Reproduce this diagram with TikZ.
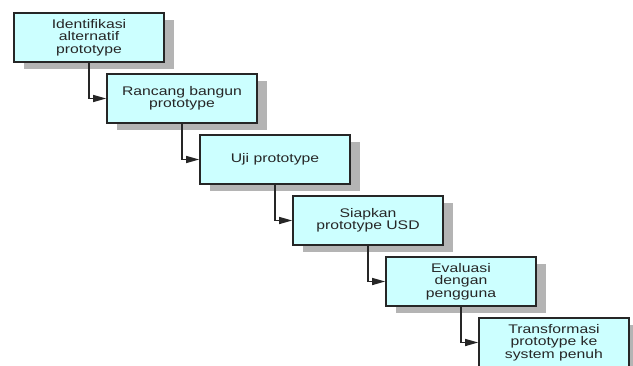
\documentclass[tikz,border=0pt]{standalone}
\usepackage{fontspec}
\setmainfont{Liberation Sans}[FakeStretch=1.26]
\usetikzlibrary{arrows.meta, positioning, shadows}
\definecolor{boxfill}{HTML}{CCFFFF}
\definecolor{shadowgray}{HTML}{B4B4B4}
\definecolor{linedark}{HTML}{262626}

\begin{document}
\begin{tikzpicture}[
			x=1pt, y=-1pt,
			every node/.style={font=\fontsize{12.5}{12.5}\selectfont, text=linedark},
			stage/.style={draw=linedark, line width=1.6pt, fill=boxfill, minimum width=150pt, minimum height=49pt, align=center, inner sep=0pt,
				drop shadow={shadow xshift=10pt, shadow yshift=-7pt, fill=shadowgray, opacity=1}},
			arrow/.style={-{Triangle[length=13pt, width=7pt]}, line width=1.3pt, draw=linedark},
			]
			\useasboundingbox (0,0) rectangle (633,365);
			
			\node[stage] (ident) at (89,37.5) {Identifikasi\\alternatif\\prototype};
			\node[stage] (rancang) at (182,98.5) {Rancang bangun\\prototype};
			\node[stage] (uji) at (275,159.5) {Uji prototype};
			\node[stage] (siapkan) at (368,220.5) {Siapkan\\prototype USD};
			\node[stage] (evaluasi) at (461,281.5) {Evaluasi\\dengan\\pengguna};
			\node[stage] (transform) at (554,342.5) {Transformasi\\prototype ke\\system penuh};
			
			\draw[arrow] (ident.south) |- (rancang.west);
			\draw[arrow] (rancang.south) |- (uji.west);
			\draw[arrow] (uji.south) |- (siapkan.west);
			\draw[arrow] (siapkan.south) |- (evaluasi.west);
			\draw[arrow] (evaluasi.south) |- (transform.west);
			
		\end{tikzpicture}
\end{document}
